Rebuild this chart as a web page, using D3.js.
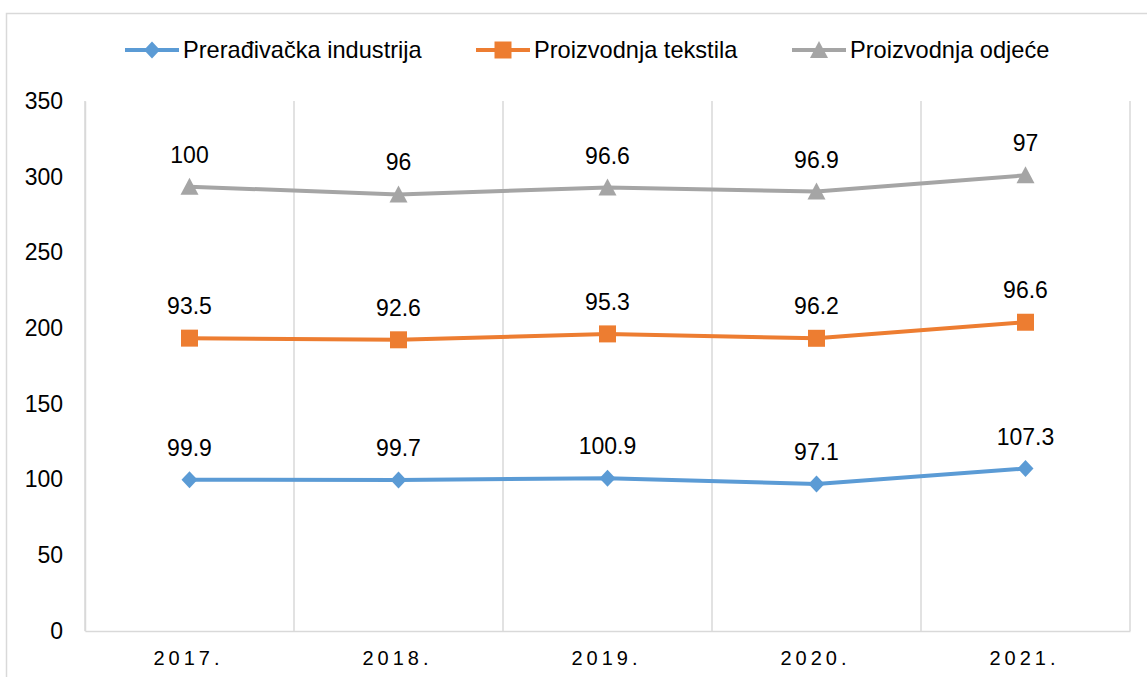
<!DOCTYPE html>
<html>
<head>
<meta charset="utf-8">
<script src="https://cdn.jsdelivr.net/npm/d3@7"></script>
<style>
  body { margin: 0; background: #fff; }
  svg text { font-family: "Liberation Sans", Arial, sans-serif; fill: #000; }
</style>
</head>
<body>
<div id="vis"></div>
<script>
// data
const years = ["2017.", "2018.", "2019.", "2020.", "2021."];
const seriesNames = ["Prerađivačka industrija", "Proizvodnja tekstila", "Proizvodnja odjeće"];
const preradivacka = [99.9, 99.7, 100.9, 97.1, 107.3];
const tekstil = [93.5, 92.6, 95.3, 96.2, 96.6];
const odjeca = [100, 96, 96.6, 96.9, 97];
const yTicks = [0, 50, 100, 150, 200, 250, 300, 350];

const COLORS = ["#5B9BD5", "#ED7D31", "#A5A5A5"];
const WIDTH = 1147, HEIGHT = 677;
const PLOT = {left: 85, right: 1130, top: 101, bottom: 631};

const svg = d3.select("#vis").append("svg")
  .attr("width", WIDTH).attr("height", HEIGHT);

// outer chart border
svg.append("rect")
  .attr("x", 6.5).attr("y", 13.5)
  .attr("width", WIDTH).attr("height", HEIGHT)
  .attr("fill", "none").attr("stroke", "#d9d9d9").attr("stroke-width", 1.5);

const X = d3.scaleBand().domain(years).range([PLOT.left, PLOT.right]).padding(0);
const Y = d3.scaleLinear().domain([0, 350]).range([PLOT.bottom, PLOT.top]);

// stacked line chart: cumulative values
const raw = [preradivacka, tekstil, odjeca];
const stacked = [];
raw.forEach((vals, s) => {
  stacked.push(vals.map((v, i) => (s === 0 ? 0 : stacked[s - 1][i]) + v));
});

// vertical gridlines at category boundaries
const bounds = years.map(y => X(y)).concat([PLOT.right]);
svg.append("g").selectAll("line")
  .data(bounds)
  .join("line")
  .attr("x1", d => d).attr("x2", d => d)
  .attr("y1", PLOT.top).attr("y2", PLOT.bottom)
  .attr("stroke", "#d9d9d9").attr("stroke-width", 1.5);

// x axis
const xAxis = svg.append("g")
  .attr("transform", "translate(0," + PLOT.bottom + ")")
  .call(d3.axisBottom(X).tickSize(0).tickPadding(20));
xAxis.select(".domain").attr("stroke", "#d9d9d9").attr("stroke-width", 1.5);
xAxis.selectAll("text")
  .attr("font-size", "20px")
  .attr("letter-spacing", "4px")
  .attr("dx", "-1px")
  .attr("font-family", "Liberation Sans, Arial, sans-serif");

// y axis
const yAxis = svg.append("g")
  .attr("transform", "translate(" + PLOT.left + ",0)")
  .call(d3.axisLeft(Y).tickValues(yTicks).tickSize(0).tickPadding(22));
yAxis.select(".domain").attr("stroke", "#d9d9d9").attr("stroke-width", 1.5);
yAxis.selectAll("text")
  .attr("font-size", "23px")
  .attr("font-family", "Liberation Sans, Arial, sans-serif");

const cx = (i) => X(years[i]) + X.bandwidth() / 2;
const line = d3.line().x((d, i) => cx(i)).y(d => Y(d));

// markers: diamond, square, triangle
const diamond = "M0,-8.5L8,0L0,8.5L-8,0Z";
const square = d3.symbol().type(d3.symbolSquare).size(289)();
const triangle = "M0,-9L9,8L-9,8Z";
const markers = [diamond, square, triangle];

stacked.forEach((vals, s) => {
  const g = svg.append("g");
  g.append("path")
    .datum(vals)
    .attr("d", line)
    .attr("fill", "none")
    .attr("stroke", COLORS[s])
    .attr("stroke-width", 4)
    .attr("stroke-linejoin", "round");
  g.selectAll(".m")
    .data(vals)
    .join("path")
    .attr("transform", (d, i) => "translate(" + cx(i) + "," + Y(d) + ")")
    .attr("d", markers[s])
    .attr("fill", COLORS[s]);
  g.selectAll("text")
    .data(raw[s])
    .join("text")
    .attr("x", (d, i) => cx(i))
    .attr("y", (d, i) => Y(vals[i]) - 24)
    .attr("text-anchor", "middle")
    .attr("font-size", "23px")
    .text(d => d);
});

// legend
const legendX = [125, 476, 792];
const legend = svg.append("g");
seriesNames.forEach((name, s) => {
  const lg = legend.append("g").attr("transform", "translate(" + legendX[s] + ",50)");
  lg.append("line")
    .attr("x1", 0).attr("x2", 54).attr("y1", 0).attr("y2", 0)
    .attr("stroke", COLORS[s]).attr("stroke-width", 4);
  lg.append("path")
    .attr("transform", "translate(27,0)")
    .attr("d", markers[s])
    .attr("fill", COLORS[s]);
  lg.append("text")
    .attr("x", 58).attr("y", 8)
    .attr("font-size", "23.6px")
    .text(name);
});
</script>
</body>
</html>
